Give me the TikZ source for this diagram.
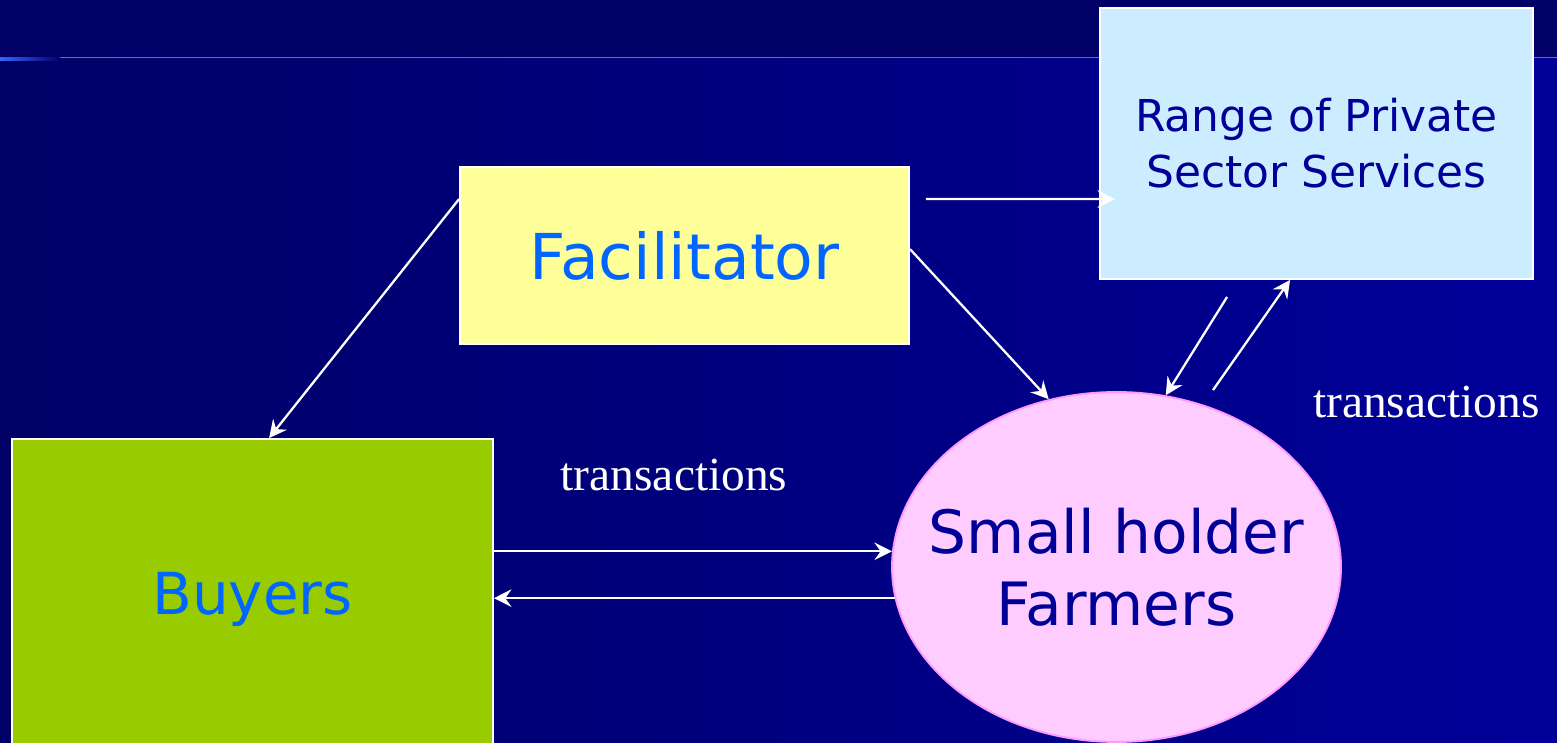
\documentclass[tikz,border=0pt]{standalone}
\usepackage{fontspec}
\usepackage{tikz}
\usetikzlibrary{calc,positioning,arrows.meta,shapes}

\newfontfamily\dejavu{DejaVu Sans}
\newfontfamily\timesfont{Liberation Serif}

\definecolor{bgdark}{RGB}{0,0,102}
\definecolor{bglight}{RGB}{0,0,153}
\definecolor{glow}{RGB}{51,102,255}
\definecolor{rulegrey}{RGB}{110,110,160}
\definecolor{facfill}{RGB}{255,255,153}
\definecolor{privfill}{RGB}{204,236,255}
\definecolor{buyfill}{RGB}{153,204,0}
\definecolor{farmfill}{RGB}{255,204,255}
\definecolor{farmline}{RGB}{255,153,255}
\definecolor{textblue}{RGB}{0,102,255}
\definecolor{textnavy}{RGB}{0,0,153}

\tikzset{
  box/.style={rectangle, draw=white, line width=1.1pt, inner sep=0pt, align=center},
  facbox/.style={box, fill=facfill, text=textblue, minimum width=8.98cm, minimum height=3.54cm,
    font=\dejavu\fontsize{36}{42}\selectfont},
  privbox/.style={box, fill=privfill, text=textnavy, minimum width=8.66cm, minimum height=5.42cm,
    font=\dejavu\fontsize{25}{32}\selectfont},
  buybox/.style={box, fill=buyfill, text=textblue, minimum width=9.62cm, minimum height=6.42cm,
    font=\dejavu\fontsize{33}{40}\selectfont},
  farmer/.style={ellipse, draw=farmline, fill=farmfill, line width=1.1pt, inner sep=0pt,
    minimum width=8.98cm, minimum height=7cm},
  farmtext/.style={text=textnavy, align=center, inner sep=0pt, font=\dejavu\fontsize{34}{41}\selectfont},
  trans/.style={text=white, inner sep=0pt, font=\timesfont\fontsize{27}{32}\selectfont},
  flow/.style={white, line width=1.3pt, -{Stealth[length=10pt,width=10pt,inset=3.5pt]}}
}

\begin{document}
\begin{tikzpicture}[x=0.02cm,y=0.02cm]
\useasboundingbox (0,0) rectangle (1557,743);
\clip (0,0) rectangle (1557,743);
% background
\shade[left color=bgdark, right color=bglight] (0,0) rectangle (1557,686);
\fill[bgdark] (0,686) rectangle (1557,743);
\draw[rulegrey, line width=0.5pt] (0,686) -- (1557,686);
\shade[left color=glow, right color=bgdark] (0,682) rectangle (60,685.5);

% boxes
\node[facbox] (fac) at (684.5,487.5) {Facilitator};
\node[privbox] (priv) at (1316.5,599.5) {Range of Private\\Sector Services};
\node[buybox] (buy) at (252.5,143.5) {Buyers};
\node[farmer] (farm) at (1116.5,176) {};
\node[farmtext] (farmtxt) at (farm.center) {Small holder\\Farmers};

% labels
\node[trans] (tr1) at (674,268) {transactions};
\node[trans] (tr2) at (1426.5,341) {transactions};

% arrows
\draw[flow] ($(fac.north west)+(0,-33)$) -- ($(buy.north west)+(258,0)$);
\draw[flow] ($(fac.north east)+(0,-83)$) -- (farm.112);
\draw[flow] ($(fac.north east)+(16,-33)$) -- ($(priv.north west)+(16,-192)$);
\draw[flow] ($(priv.south west)+(128,-17)$) -- (farm.74);
\draw[flow] ($(farm.north)+(96.5,1)$) -- ($(priv.south west)+(191,0)$);
\draw[flow] (buy.east |- farm.176) -- (farm.176);
\draw[flow] (farm.188) -- (buy.east |- farm.188);
\end{tikzpicture}
\end{document}
